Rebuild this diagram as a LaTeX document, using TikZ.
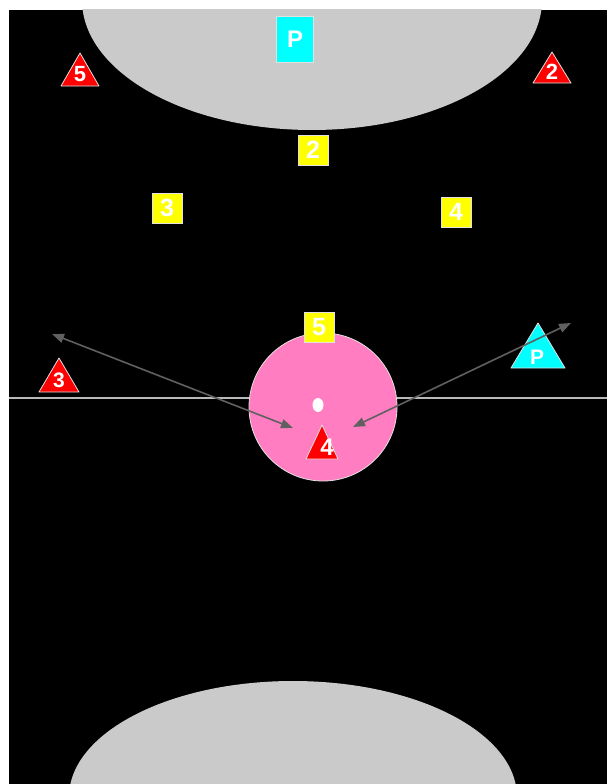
\documentclass[tikz,border=0pt]{standalone}
\usepackage{fontspec}
\setmainfont{Liberation Sans}
\usetikzlibrary{arrows.meta}
\definecolor{fieldgray}{RGB}{202,202,202}
\definecolor{pinkc}{RGB}{255,125,192}
\definecolor{arrowgray}{RGB}{96,96,96}
\definecolor{linegray}{RGB}{185,185,185}
\definecolor{edgegray}{RGB}{225,225,225}
\definecolor{cyanc}{RGB}{0,255,255}
\definecolor{yellowc}{RGB}{255,255,0}
\definecolor{redc}{RGB}{255,0,0}
\tikzset{
  lbl/.style={text=white, inner sep=0pt},
  sqbox/.style={draw=edgegray, line width=0.8, inner sep=0pt, minimum width=30, minimum height=30},
  tri/.style={draw=edgegray, line width=0.8, line join=round},
  conn/.style={draw=arrowgray, line width=1.6, {Triangle[length=12pt,width=9pt]}-{Triangle[length=12pt,width=9pt]}},
}
\newcommand{\mklabel}[4]{%
  \node[lbl,font=\bfseries\fontsize{#4}{#4}\selectfont] (#1) at (#2) {#3};}
\begin{document}
\begin{tikzpicture}[x=1pt,y=-1pt]
\useasboundingbox (0,0) rectangle (607,784);
\fill[white] (0,0) rectangle (607,784);
\fill[black] (9,10) rectangle (607,784);
\begin{scope}
  \clip (9,10) rectangle (607,784);
  \fill[fieldgray] (312,0) ellipse [x radius=230, y radius=130];
  \fill[fieldgray] (293,797) ellipse [x radius=224, y radius=116];
  \draw[linegray, line width=2.2] (9,398) -- (607,398);
\end{scope}
% pink circle
\node[circle, fill=pinkc, draw=edgegray, line width=0.8, minimum size=148, inner sep=0pt] (circ) at (323,407) {};
\fill[white] (318,405) ellipse [x radius=5.5, y radius=7];
% yellow squares
\node[sqbox, fill=yellowc] (q2) at (313,150) {};
\node[sqbox, fill=yellowc] (q3) at (167,208) {};
\node[sqbox, fill=yellowc] (q4) at (456,212) {};
\node[sqbox, fill=yellowc] (q5) at (319,327) {};
\mklabel{l2}{q2.center}{2}{25}
\mklabel{l3}{q3.center}{3}{25}
\mklabel{l4}{q4.center}{4}{25}
\mklabel{l5}{q5.center}{5}{25}
% cyan square
\node[sqbox, fill=cyanc, minimum width=37, minimum height=46] (qp) at (295,39) {};
\mklabel{lp}{qp.center}{P}{24}
% red triangles
\draw[tri, fill=redc] (80,53) -- (99,86) -- (61,86) -- cycle;
\draw[tri, fill=redc] (552,52) -- (571,83) -- (533,83) -- cycle;
\draw[tri, fill=redc] (59,358) -- (79,392) -- (39,392) -- cycle;
\draw[tri, fill=redc] (322,425) -- (338,459) -- (306,459) -- cycle;
\coordinate (c5) at (80,74);
\coordinate (c2) at (552,72);
\coordinate (c3) at (59,380);
\coordinate (c4) at (327,447);
\mklabel{t5}{c5}{5}{22}
\mklabel{t2}{c2}{2}{22}
\mklabel{t3}{c3}{3}{21}
\mklabel{t4}{c4}{4}{24}
% cyan triangle
\draw[tri, fill=cyanc] (538,323) -- (565,368) -- (511,368) -- cycle;
\coordinate (cp) at (537,357);
\mklabel{tp}{cp}{P}{21}
% arrows
\coordinate (a1) at (52,334);
\coordinate (a2) at (293,428);
\coordinate (b1) at (353,427);
\coordinate (b2) at (571,323);
\draw[conn] (a1) -- (a2);
\draw[conn] (b1) -- (b2);
\end{tikzpicture}
\end{document}
